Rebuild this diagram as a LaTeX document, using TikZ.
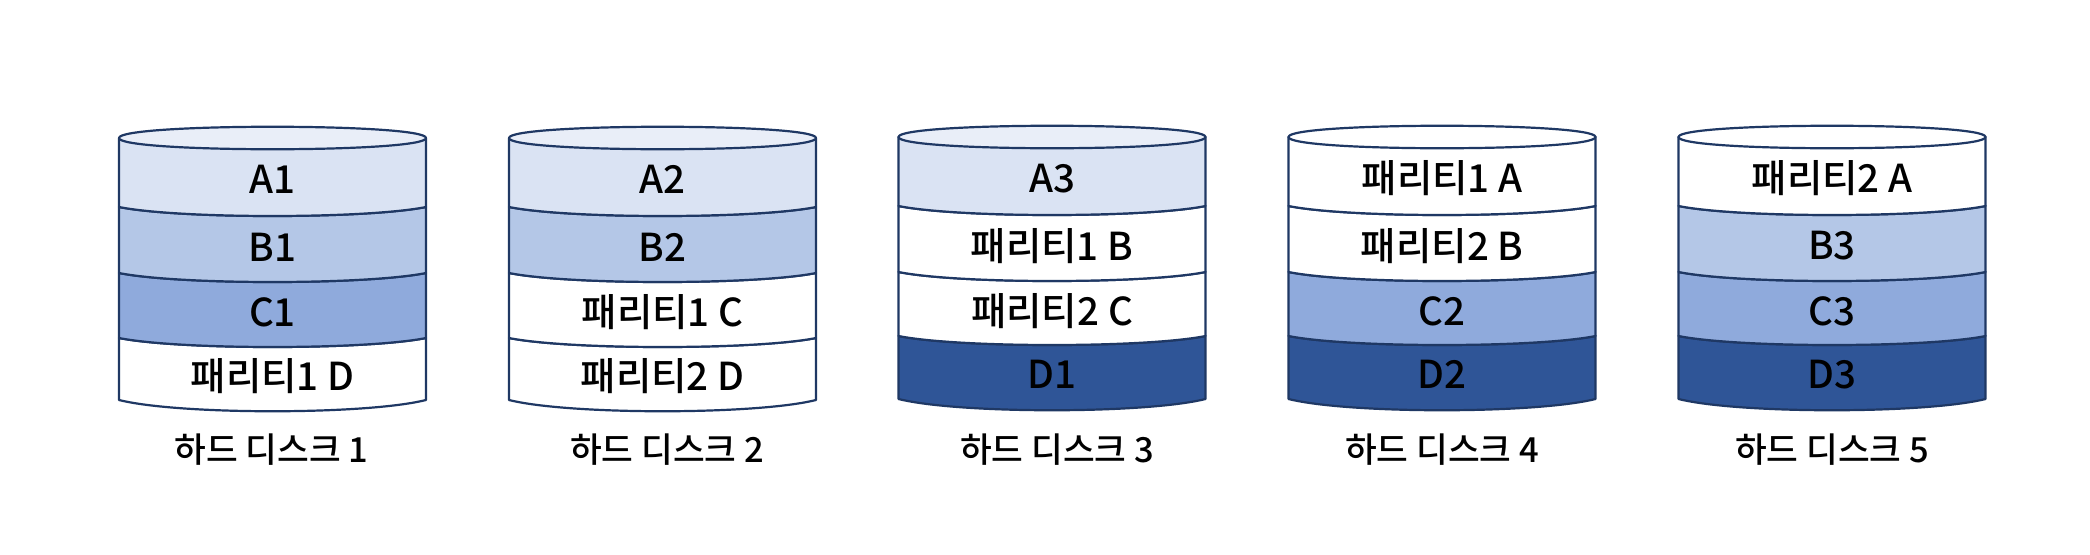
\documentclass[tikz,border=0pt]{standalone}
\usepackage{fontspec}
\setmainfont{Noto Sans CJK KR}[UprightFont=* Medium]
\definecolor{edge}{HTML}{1F3864}
\definecolor{cA}{HTML}{DAE3F3}
\definecolor{cT}{HTML}{E9EEF8}
\definecolor{cB}{HTML}{B4C7E7}
\definecolor{cC}{HTML}{8FAADC}
\definecolor{cD}{HTML}{2F5597}
\tikzset{x=1pt,y=-1pt,
 lab/.style={font=\fontsize{38.5}{42}\selectfont,text=black,inner sep=0pt},
 caption/.style={font=\fontsize{34.5}{38}\selectfont,text=black,inner sep=0pt},
 rim/.style={draw=edge,line width=2.2pt,line join=round}}
% #1 left x, #2 fill, #3 side y top, #4 side y bottom, #5 label, #6 sag control of lower edge
\newcommand{\band}[6]{%
 \path[fill=#2,rim] (#1,#3) .. controls (#1+60,#3+12) and (#1+247,#3+12) .. (#1+307,#3)
   -- (#1+307,#4) .. controls (#1+247,#4+#6) and (#1+60,#4+#6) .. (#1,#4) -- cycle;
 \node[lab] at (#1+153.5,{(#3+#4)/2+7}) {#5};}
\newcommand{\lid}[3]{%
 \path[fill=#2,rim] (#1,#3) .. controls (#1,#3-15) and (#1+307,#3-15) .. (#1+307,#3)
   .. controls (#1+307,#3+15) and (#1,#3+15) .. (#1,#3) -- cycle;}
\begin{document}
\begin{tikzpicture}
\useasboundingbox (0,0) rectangle (2090,554);
\fill[white] (0,0) rectangle (2090,554);
% disk 1
\band{119}{white}{338}{400}{패리티1 D}{15}
\band{119}{cC}{273}{338}{C1}{12}
\band{119}{cB}{207}{273}{B1}{12}
\band{119}{cA}{138}{207}{A1}{12}
\lid{119}{cT}{138}
\node[caption] (c1) at (271.5,450) {하드 디스크 1};
% disk 2
\band{509}{white}{338}{400}{패리티2 D}{15}
\band{509}{white}{273}{338}{패리티1 C}{12}
\band{509}{cB}{207}{273}{B2}{12}
\band{509}{cA}{138}{207}{A2}{12}
\lid{509}{cT}{138}
\node[caption] (c2) at (667,450) {하드 디스크 2};
% disk 3
\band{898.5}{cD}{336}{399}{D1}{15}
\band{898.5}{white}{272}{336}{패리티2 C}{12}
\band{898.5}{white}{206}{272}{패리티1 B}{12}
\band{898.5}{cA}{137}{206}{A3}{12}
\lid{898.5}{cT}{137}
\node[caption] (c3) at (1057,450) {하드 디스크 3};
% disk 4
\band{1288.5}{cD}{336}{399}{D2}{15}
\band{1288.5}{cC}{272}{336}{C2}{12}
\band{1288.5}{white}{206}{272}{패리티2 B}{12}
\band{1288.5}{white}{137}{206}{패리티1 A}{12}
\lid{1288.5}{white}{137}
\node[caption] (c4) at (1442,450) {하드 디스크 4};
% disk 5
\band{1678.5}{cD}{336}{399}{D3}{15}
\band{1678.5}{cC}{272}{336}{C3}{12}
\band{1678.5}{cB}{206}{272}{B3}{12}
\band{1678.5}{white}{137}{206}{패리티2 A}{12}
\lid{1678.5}{white}{137}
\node[caption] (c5) at (1832,450) {하드 디스크 5};
\end{tikzpicture}
\end{document}
